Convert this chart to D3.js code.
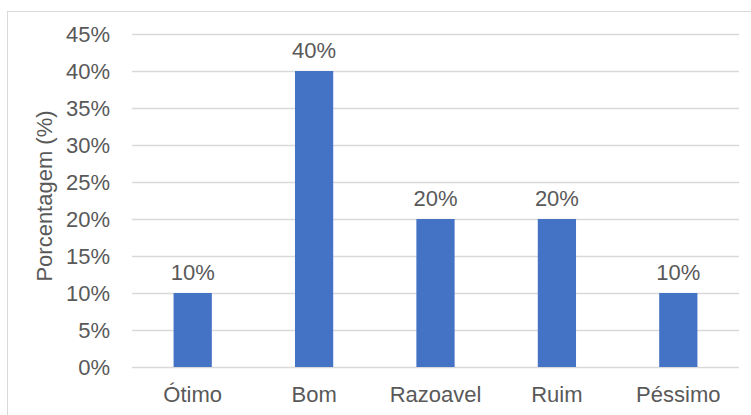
<!DOCTYPE html>
<meta charset="utf-8" />
<style>
  body {
    margin: 0px;
    padding: 0px;
    background: #fff;
  }
  svg {
    display: block;
    font-family: "Liberation Sans", Arial, sans-serif;
  }
  .grid line {
    stroke: #d9d9d9;
    stroke-width: 1.3px;
  }
  .label {
    fill: #595959;
    font-size: 22px;
  }
</style>

<svg width="751" height="415"></svg>

<script src="https://d3js.org/d3.v7.min.js"></script>
<script>
  const categories = ["Ótimo", "Bom", "Razoavel", "Ruim", "Péssimo"];
  const values = [0.1, 0.4, 0.2, 0.2, 0.1];
  const yTicks = [0, 0.05, 0.1, 0.15, 0.2, 0.25, 0.3, 0.35, 0.4, 0.45];

  const svg = d3.select("svg");
  const margin = { top: 34, right: 12, bottom: 48, left: 132 };

  // chart border (runs past the right/bottom edges like the screenshot)
  svg.append("rect")
    .attr("x", 7.5).attr("y", 11.5)
    .attr("width", 760).attr("height", 420)
    .attr("fill", "none").attr("stroke", "#d9d9d9").attr("stroke-width", 1);

  const x = d3.scaleBand()
    .domain(categories)
    .range([margin.left, 739])
    .paddingInner(0.685)
    .paddingOuter(0.3425);

  const y = d3.scaleLinear()
    .domain([0, 0.45])
    .range([367, margin.top]);

  const fmt = d3.format(".0%");

  // gridlines
  svg.append("g").attr("class", "grid")
    .selectAll("line").data(yTicks).enter().append("line")
    .attr("x1", margin.left).attr("x2", 739)
    .attr("y1", d => Math.round(y(d)) + 0.5).attr("y2", d => Math.round(y(d)) + 0.5);

  // y tick labels
  svg.append("g")
    .selectAll("text").data(yTicks).enter().append("text")
    .attr("class", "label")
    .attr("x", 110).attr("y", d => y(d))
    .attr("dy", "0.35em")
    .attr("text-anchor", "end")
    .text(fmt);

  // bars
  svg.append("g")
    .selectAll("rect").data(values).enter().append("rect")
    .attr("x", (d, i) => x(categories[i]))
    .attr("width", x.bandwidth())
    .attr("y", d => y(d))
    .attr("height", d => y(0) - y(d))
    .attr("fill", "#4472c4");

  // value labels
  svg.append("g")
    .selectAll("text").data(values).enter().append("text")
    .attr("class", "label")
    .attr("x", (d, i) => x(categories[i]) + x.bandwidth() / 2)
    .attr("y", d => y(d) - 13.5)
    .attr("text-anchor", "middle")
    .text(fmt);

  // category labels
  svg.append("g")
    .selectAll("text").data(categories).enter().append("text")
    .attr("class", "label")
    .attr("x", d => x(d) + x.bandwidth() / 2)
    .attr("y", 402)
    .attr("text-anchor", "middle")
    .text(d => d);

  // axis title
  svg.append("text")
    .attr("class", "label")
    .attr("transform", "translate(52,196) rotate(-90)")
    .attr("text-anchor", "middle")
    .text("Porcentagem (%)");
</script>
